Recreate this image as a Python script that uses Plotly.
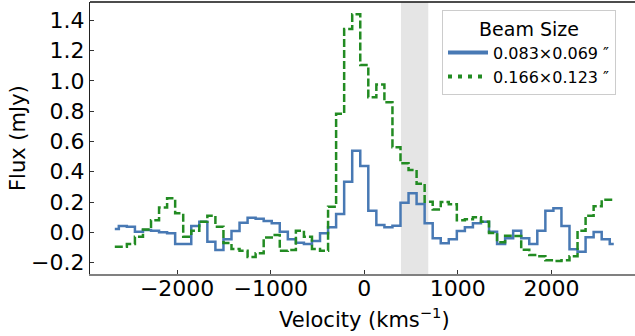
import plotly.graph_objects as go

# Velocity channel centres (km/s)
velocity = [-2666, -2580, -2494, -2408, -2322, -2236, -2150, -2064, -1978, -1892,
            -1806, -1720, -1634, -1548, -1462, -1376, -1290, -1204, -1118, -1032,
            -946, -860, -774, -688, -602, -516, -430, -344, -258, -172, -86, 0,
            86, 172, 258, 344, 430, 516, 602, 688, 774, 860, 946, 1032, 1118,
            1204, 1290, 1376, 1462, 1548, 1634, 1720, 1806, 1892, 1978, 2064,
            2150, 2236, 2322, 2408, 2494, 2580, 2666]

# Flux (mJy), beam 0.083x0.069"
flux_small = [0.022, 0.042, 0.037, 0.004, 0.015, 0.010, 0.000, -0.007, -0.077, -0.077,
              0.042, 0.070, -0.062, -0.117, -0.046, 0.009, 0.063, 0.096, 0.090, 0.075,
              0.059, 0.004, -0.046, -0.069, -0.077, -0.057, -0.007, 0.033, 0.121, 0.334,
              0.539, 0.438, 0.143, 0.048, 0.033, 0.044, 0.195, 0.257, 0.187, 0.059,
              -0.040, -0.073, -0.046, 0.009, 0.033, 0.059, 0.070, 0.004, -0.077, -0.040,
              0.011, -0.040, -0.077, 0.011, 0.143, 0.158, 0.042, -0.112, -0.128, -0.033,
              0.002, -0.046, -0.077]

# Flux (mJy), beam 0.166x0.123"
flux_large = [-0.095, -0.095, -0.078, -0.030, 0.018, 0.080, 0.163, 0.224, 0.125, -0.030,
              0.010, 0.070, 0.110, 0.037, -0.070, -0.110, -0.122, -0.163, -0.139, -0.035,
              -0.018, -0.121, -0.117, 0.010, -0.030, -0.110, -0.122, 0.169, 0.782, 1.342,
              1.439, 1.104, 0.892, 0.975, 0.858, 0.562, 0.455, 0.411, 0.321, 0.202,
              0.150, 0.200, 0.185, 0.079, 0.086, 0.099, 0.070, -0.005, -0.065, -0.022,
              -0.025, -0.115, -0.150, -0.158, -0.185, -0.189, -0.185, -0.158, 0.010, 0.110,
              0.172, 0.215, 0.215]

band = [392, 684]
legend_labels = ["0.083×0.069 ″", "0.166×0.123 ″"]
x_ticks = [-2000, -1000, 0, 1000, 2000]
y_ticks = [-0.2, 0.0, 0.2, 0.4, 0.6, 0.8, 1.0, 1.2, 1.4]

BLUE = "#4879b4"
GREEN = "#228b22"
FONT = "DejaVu Sans"

W, H = 635, 336
ML, MR, MT, MB = 90, 0, 2, 62
PW, PH = W - ML - MR, H - MT - MB

fig = go.Figure()

fig.add_trace(go.Scatter(x=velocity, y=flux_small, mode="lines", line_shape="hvh",
                         line=dict(color=BLUE, width=2.5), showlegend=False))
fig.add_trace(go.Scatter(x=velocity, y=flux_large, mode="lines", line_shape="hvh",
                         line=dict(color=GREEN, width=2.5, dash="8px,3px"), showlegend=False))

# legend-only handles
fig.add_trace(go.Scatter(x=[None], y=[None], mode="lines", name=legend_labels[0],
                         line=dict(color=BLUE, width=4)))
fig.add_trace(go.Scatter(x=[None], y=[None], mode="lines", name=legend_labels[1],
                         line=dict(color=GREEN, width=4, dash="4px,6px")))

fig.add_vrect(x0=band[0], x1=band[1], fillcolor="#e5e5e5", line_width=0, layer="below")

# top spine
fig.add_shape(type="line", xref="paper", yref="paper", x0=0, x1=1, y0=1, y1=1,
              line=dict(color="#111", width=1.5))

# axis titles as annotations
fig.add_annotation(text="Velocity (kms<sup>−1</sup>)", xref="paper", yref="paper",
                   x=(364 - ML) / PW, y=-(318 - (MT + PH)) / PH,
                   xanchor="center", yanchor="middle", showarrow=False,
                   font=dict(size=21, family=FONT, color="black"))
fig.add_annotation(text="Flux (mJy)", xref="paper", yref="paper",
                   x=(18 - ML) / PW, y=1 - (138 - MT) / PH, textangle=-90,
                   xanchor="center", yanchor="middle", showarrow=False,
                   font=dict(size=21, family=FONT, color="black"))

fig.update_layout(
    width=W, height=H,
    margin=dict(l=ML, r=MR, t=MT, b=MB, autoexpand=False),
    paper_bgcolor="white", plot_bgcolor="white",
    font=dict(family=FONT, color="black"),
    legend=dict(
        title=dict(text="Beam Size", font=dict(size=19, family=FONT), side="top center"),
        font=dict(size=16, family=FONT),
        x=(442 - ML) / PW, xanchor="left", y=1 - (10 - MT) / PH, yanchor="top",
        bgcolor="rgba(255,255,255,0.9)", bordercolor="#cccccc", borderwidth=1,
        itemwidth=40, tracegroupgap=2,
    ),
)

fig.update_xaxes(
    range=[-2931, 2893], tickvals=x_ticks, tickformat="d", automargin=False,
    showgrid=False, zeroline=False,
    showline=True, linecolor="#808080", linewidth=2,
    ticks="inside", ticklen=4, tickwidth=1, tickcolor="#333",
    tickfont=dict(size=22, family=FONT), ticklabelstandoff=-6,
)
fig.update_yaxes(
    range=[-0.2752, 1.5201], tickvals=y_ticks, tickformat=".1f", automargin=False,
    showgrid=False, zeroline=False,
    showline=True, linecolor="#222", linewidth=1.2,
    ticks="inside", ticklen=4, tickwidth=1, tickcolor="#333",
    tickfont=dict(size=22, family=FONT),
)

fig.write_html(
    "out.html",
    config={"displayModeBar": False},
    post_script="document.body.style.margin='0';document.body.style.padding='0';"
                "document.body.style.overflow='hidden';",
)
